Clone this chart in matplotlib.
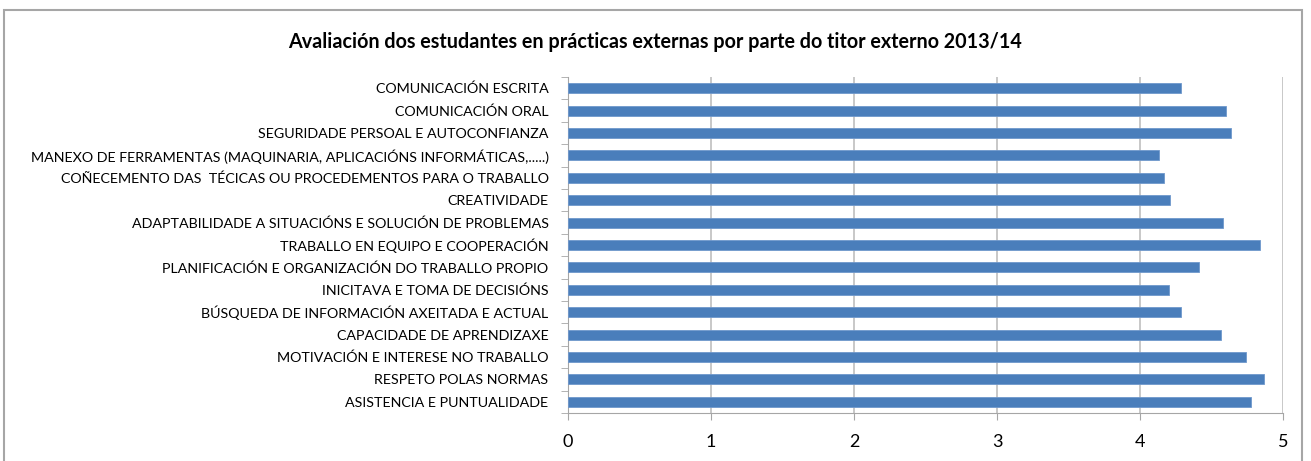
import numpy as np
import matplotlib
matplotlib.use('Agg')
import matplotlib.pyplot as plt
from matplotlib.patches import Rectangle

#------------------------------------------------------------------------------
#   Data (top to bottom as shown in the chart)
#------------------------------------------------------------------------------
categories = [
    'COMUNICACIÓN ESCRITA',
    'COMUNICACIÓN ORAL',
    'SEGURIDADE PERSOAL E AUTOCONFIANZA',
    'MANEXO DE FERRAMENTAS (MAQUINARIA, APLICACIÓNS INFORMÁTICAS,.....)',
    'COÑECEMENTO DAS  TÉCICAS OU PROCEDEMENTOS PARA O TRABALLO',
    'CREATIVIDADE',
    'ADAPTABILIDADE A SITUACIÓNS E SOLUCIÓN DE PROBLEMAS',
    'TRABALLO EN EQUIPO E COOPERACIÓN',
    'PLANIFICACIÓN E ORGANIZACIÓN DO TRABALLO PROPIO',
    'INICITAVA E TOMA DE DECISIÓNS',
    'BÚSQUEDA DE INFORMACIÓN AXEITADA E ACTUAL',
    'CAPACIDADE DE APRENDIZAXE',
    'MOTIVACIÓN E INTERESE NO TRABALLO',
    'RESPETO POLAS NORMAS',
    'ASISTENCIA E PUNTUALIDADE',
]
scores = [4.29, 4.60, 4.64, 4.13, 4.17, 4.21, 4.58, 4.84,
          4.41, 4.20, 4.29, 4.57, 4.74, 4.87, 4.78]
x_ticks = [0, 1, 2, 3, 4, 5]
title = 'Avaliación dos estudantes en prácticas externas por parte do titor externo 2013/14'

plt.rcParams['font.family'] = ['Liberation Sans Narrow', 'Lato', 'DejaVu Sans']

#------------------------------------------------------------------------------
#   Plot
#------------------------------------------------------------------------------
fig = plt.figure(figsize=(13.11, 4.61), dpi=100)
ax = fig.add_axes([0.4333, 0.1041, 0.5453, 0.7289])

# outer chart frame
fig.patches.append(Rectangle((0.003, -0.05), 0.99, 1.028, transform=fig.transFigure,
                             fill=False, edgecolor='#a6a6a6', linewidth=1.5))

y = np.arange(len(categories))[::-1]
ax.barh(y, scores, height=0.45, color='#4a7ebb', edgecolor='#6f98cc', linewidth=0.6, zorder=3)

ax.set_xlim(0, 5)
ax.set_ylim(-0.5, len(categories) - 0.5)
ax.set_xticks(x_ticks)
ax.set_xticklabels([str(t) for t in x_ticks], fontsize=13)
ax.set_yticks(y)
ax.set_yticklabels(categories, fontsize=10.3)
ax.set_yticks(np.arange(-0.5, len(categories), 1), minor=True)

ax.grid(axis='x', color='#bfbfbf', linewidth=1.2, zorder=0)
for s in ['top', 'right']:
    ax.spines[s].set_visible(False)
ax.spines['left'].set_color('#a6a6a6')
ax.spines['bottom'].set_color('#a6a6a6')
ax.tick_params(axis='x', length=5, color='#a6a6a6', pad=10)
ax.tick_params(axis='y', which='major', length=0, pad=14)
ax.tick_params(axis='y', which='minor', length=5, color='#a6a6a6')

fig.text(0.5, 0.908, title, ha='center', va='center', fontsize=14.2, fontweight='bold')

plt.savefig('out.png', dpi=100)
